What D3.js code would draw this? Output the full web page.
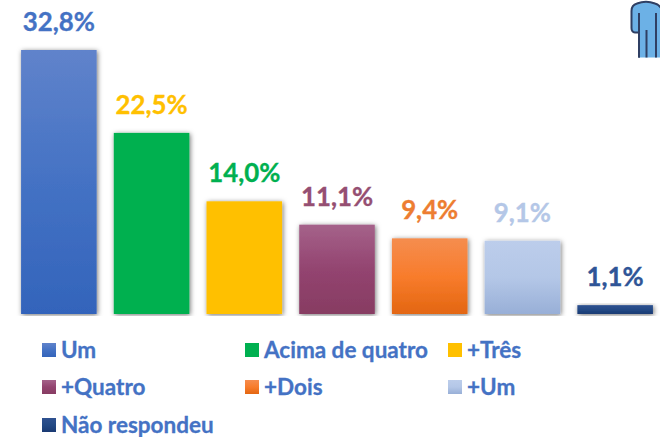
<!DOCTYPE html>
<html><head><meta charset="utf-8">
<script src="https://cdnjs.cloudflare.com/ajax/libs/d3/7.8.5/d3.min.js"></script>
<style>html,body{margin:0;padding:0;background:#fff;overflow:hidden}svg{display:block}text{font-family:Lato,"Open Sans",sans-serif;font-weight:700}</style>
</head><body><svg id="c" width="660" height="437"></svg>
<script>
const categories=["Um","Acima de quatro","+Três","+Quatro","+Dois","+Um","Não respondeu"];
const values=[32.8,22.5,14.0,11.1,9.4,9.1,1.1];
const labels=["32,8%","22,5%","14,0%","11,1%","9,4%","9,1%","1,1%"];
const gradTop=["#6083cb","#00b050","#ffc000","#a5628a","#f58d4f","#bccdeb","#2f5190"];
const gradMid=["#4472c4","#00b050","#ffc000","#934470","#f87c2c","#b4c7e7","#234a85"];
const gradBot=["#3364bb","#00b050","#ffc000","#873c62","#e36611","#98afd7","#1a3a73"];
const labelColors=["#4472c4","#ffc000","#00b050","#954f72","#ed7d31","#b4c7e7","#2f5597"];
const legendColumn=[0,1,2,0,1,2,0];
const legendRow=[0,0,0,1,1,1,2];
const svg=d3.select("#c");
const defs=svg.append("defs");
const f=defs.append("filter").attr("id","sh").attr("x","-20%").attr("y","-20%").attr("width","140%").attr("height","140%");
f.append("feDropShadow").attr("dx",1).attr("dy",1).attr("stdDeviation",2.6).attr("flood-color","#000").attr("flood-opacity",0.55);
defs.append("clipPath").attr("id","plotClip").append("rect").attr("x",0).attr("y",0).attr("width",660).attr("height",316);
categories.forEach((c,i)=>{
  const g=defs.append("linearGradient").attr("id","g"+i).attr("x1",0).attr("y1",0).attr("x2",0).attr("y2",1);
  g.append("stop").attr("offset","0%").attr("stop-color",gradTop[i]);
  g.append("stop").attr("offset","50%").attr("stop-color",gradMid[i]);
  g.append("stop").attr("offset","100%").attr("stop-color",gradBot[i]);
});
const x=d3.scaleBand().domain(categories).range([12.5,661.5]).paddingInner(0.185).paddingOuter(0.0925);
const y=d3.scaleLinear().domain([0,32.8]).range([314,50]);
const idx=categories.map((c,i)=>i);
svg.append("g").attr("clip-path","url(#plotClip)").selectAll("rect").data(idx).join("rect")
  .attr("x",i=>x(categories[i])).attr("y",i=>y(values[i]))
  .attr("width",x.bandwidth()).attr("height",i=>y(0)-y(values[i]))
  .attr("fill",i=>`url(#g${i})`).attr("filter","url(#sh)");
svg.append("g").selectAll("text").data(idx).join("text")
  .attr("x",i=>x(categories[i])+x.bandwidth()/2).attr("y",i=>y(values[i])-19)
  .attr("text-anchor","middle").attr("font-size",25.8).attr("fill",i=>labelColors[i])
  .attr("stroke",i=>labelColors[i]).attr("stroke-width",0.35)
  .text(i=>labels[i]);
const lx=d3.scaleOrdinal().domain([0,1,2]).range([42,245,448]);
const ly=d3.scaleOrdinal().domain([0,1,2]).range([350,387,425]);
const lg=svg.append("g").selectAll("g").data(idx).join("g")
  .attr("transform",i=>`translate(${lx(legendColumn[i])},${ly(legendRow[i])})`);
lg.append("rect").attr("x",0).attr("y",-7).attr("width",14).attr("height",14).attr("fill",i=>`url(#g${i})`);
lg.append("text").attr("x",19).attr("y",7.7).attr("font-size",22.5).attr("fill","#4472c4")
  .attr("stroke","#4472c4").attr("stroke-width",0.3).text(i=>categories[i]);
defs.append("clipPath").attr("id","iconClip").append("rect").attr("x",620).attr("y",0).attr("width",40).attr("height",57.5);
const ic=svg.append("g").attr("clip-path","url(#iconClip)");
ic.append("path").attr("d","M639 60V32.5H635Q631.5 32 631.5 28V11Q631.5 5 637 3.5Q646 0 655 3.5Q660 5 663 11V60Z")
  .attr("fill","#6cb1e6").attr("stroke","#2f3f63").attr("stroke-width",2);
ic.append("path").attr("d","M639 13V60M646.5 30V60M656 13V60").attr("fill","none").attr("stroke","#2f3f63").attr("stroke-width",2);
</script></body></html>
